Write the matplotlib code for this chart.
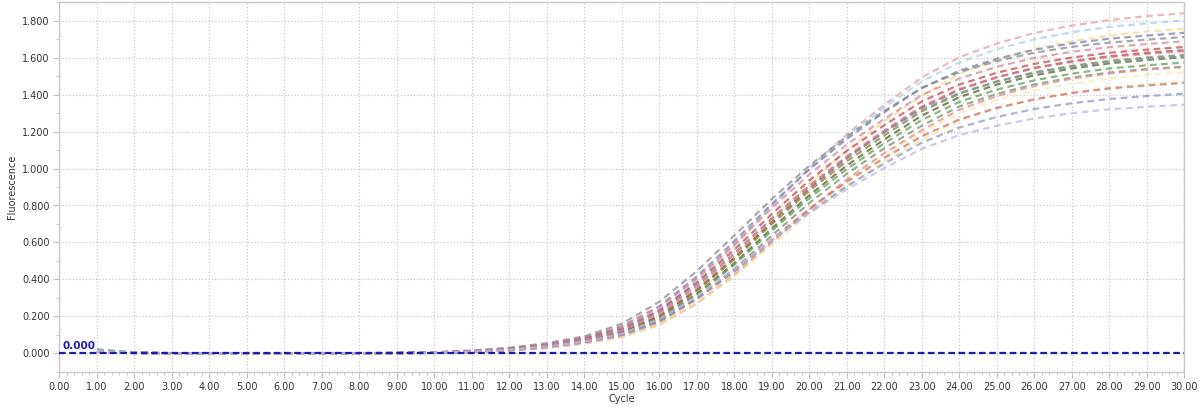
import matplotlib
matplotlib.use("Agg")
import matplotlib.pyplot as plt
from matplotlib.ticker import MultipleLocator, FormatStrFormatter

# qPCR amplification curves, fluorescence per cycle
cycles = list(range(1, 31))

well_colors = ["#e8a0a8", "#a8d4e8", "#f0dc90", "#7880b0", "#8c8c8c",
               "#d88898", "#c84848", "#a0502c", "#808040", "#5c5c28",
               "#5ca05c", "#70a0a0", "#e070a0", "#7c9070", "#f6eeb0",
               "#e09090", "#f2e6a0", "#d07070", "#9098c0", "#c0b8e0"]

w01 = [0.014, 0.004, 0.001, 0.000, 0.000, 0.000, 0.000, 0.001, 0.002, 0.005, 0.011, 0.023, 0.046, 0.080, 0.131,
       0.228, 0.388, 0.581, 0.798, 1.003, 1.186, 1.345, 1.493, 1.602, 1.676, 1.733, 1.773, 1.803, 1.824, 1.840]
w02 = [0.020, 0.005, 0.001, 0.000, 0.000, 0.000, 0.001, 0.001, 0.003, 0.006, 0.012, 0.025, 0.048, 0.083, 0.136,
       0.237, 0.397, 0.590, 0.801, 0.999, 1.175, 1.330, 1.472, 1.574, 1.645, 1.699, 1.737, 1.766, 1.785, 1.801]
w03 = [0.010, 0.003, 0.000, 0.000, 0.000, 0.000, 0.000, 0.001, 0.001, 0.003, 0.010, 0.020, 0.039, 0.069, 0.113,
       0.197, 0.338, 0.518, 0.722, 0.921, 1.100, 1.257, 1.394, 1.512, 1.589, 1.647, 1.688, 1.719, 1.741, 1.756]
w04 = [0.012, 0.004, 0.001, 0.000, 0.000, 0.000, 0.001, 0.002, 0.003, 0.006, 0.014, 0.027, 0.051, 0.087, 0.147,
       0.256, 0.417, 0.608, 0.809, 0.996, 1.161, 1.305, 1.436, 1.529, 1.593, 1.642, 1.677, 1.702, 1.719, 1.734]
w05 = [0.016, 0.005, 0.002, 0.001, 0.000, 0.000, 0.001, 0.002, 0.004, 0.007, 0.016, 0.031, 0.056, 0.093, 0.161,
       0.280, 0.446, 0.639, 0.836, 1.016, 1.174, 1.312, 1.436, 1.521, 1.581, 1.626, 1.658, 1.681, 1.697, 1.711]
w06 = [0.011, 0.003, 0.001, 0.000, 0.000, 0.000, 0.000, 0.001, 0.003, 0.006, 0.014, 0.026, 0.050, 0.084, 0.143,
       0.249, 0.406, 0.591, 0.787, 0.969, 1.130, 1.269, 1.398, 1.487, 1.550, 1.598, 1.631, 1.656, 1.673, 1.688]
w07 = [0.009, 0.003, 0.001, 0.000, 0.000, 0.000, 0.000, 0.001, 0.002, 0.005, 0.012, 0.025, 0.046, 0.079, 0.133,
       0.232, 0.382, 0.562, 0.755, 0.936, 1.096, 1.235, 1.363, 1.454, 1.518, 1.566, 1.600, 1.626, 1.643, 1.657]
w08 = [0.008, 0.002, 0.000, 0.000, 0.000, 0.000, 0.000, 0.001, 0.002, 0.004, 0.010, 0.020, 0.041, 0.071, 0.117,
       0.203, 0.345, 0.518, 0.711, 0.894, 1.057, 1.199, 1.331, 1.427, 1.494, 1.544, 1.580, 1.607, 1.626, 1.640]
w09 = [0.010, 0.003, 0.001, 0.000, 0.000, 0.000, 0.000, 0.001, 0.002, 0.004, 0.010, 0.020, 0.040, 0.070, 0.115,
       0.200, 0.340, 0.510, 0.700, 0.880, 1.040, 1.180, 1.310, 1.405, 1.470, 1.520, 1.555, 1.582, 1.600, 1.614]
w10 = [0.012, 0.003, 0.001, 0.000, 0.000, 0.000, 0.000, 0.001, 0.002, 0.004, 0.009, 0.019, 0.038, 0.066, 0.109,
       0.189, 0.323, 0.489, 0.676, 0.856, 1.017, 1.158, 1.286, 1.386, 1.454, 1.504, 1.541, 1.569, 1.587, 1.602]
w11 = [0.022, 0.006, 0.002, 0.000, 0.000, 0.000, 0.000, 0.001, 0.002, 0.004, 0.009, 0.019, 0.037, 0.064, 0.107,
       0.185, 0.317, 0.480, 0.664, 0.840, 0.998, 1.137, 1.263, 1.361, 1.427, 1.477, 1.513, 1.541, 1.558, 1.573]
w12 = [0.018, 0.005, 0.001, 0.000, 0.000, 0.000, 0.000, 0.001, 0.003, 0.005, 0.012, 0.024, 0.045, 0.076, 0.129,
       0.224, 0.370, 0.544, 0.732, 0.907, 1.062, 1.197, 1.321, 1.409, 1.471, 1.517, 1.550, 1.575, 1.592, 1.606]
w13 = [0.010, 0.003, 0.001, 0.000, 0.000, 0.000, 0.000, 0.001, 0.002, 0.005, 0.011, 0.022, 0.044, 0.075, 0.123,
       0.216, 0.360, 0.535, 0.727, 0.907, 1.067, 1.207, 1.336, 1.429, 1.493, 1.542, 1.577, 1.603, 1.620, 1.634]
w14 = [0.013, 0.004, 0.001, 0.000, 0.000, 0.000, 0.000, 0.001, 0.001, 0.003, 0.009, 0.017, 0.035, 0.061, 0.100,
       0.174, 0.299, 0.457, 0.638, 0.814, 0.972, 1.110, 1.232, 1.336, 1.404, 1.455, 1.492, 1.519, 1.538, 1.551]
w15 = [0.008, 0.002, 0.000, 0.000, 0.000, 0.000, 0.000, 0.000, 0.001, 0.003, 0.008, 0.016, 0.032, 0.057, 0.093,
       0.161, 0.278, 0.431, 0.607, 0.781, 0.937, 1.075, 1.194, 1.301, 1.371, 1.422, 1.459, 1.487, 1.506, 1.520]
w16 = [0.009, 0.003, 0.001, 0.000, 0.000, 0.000, 0.000, 0.000, 0.001, 0.003, 0.007, 0.015, 0.030, 0.054, 0.090,
       0.156, 0.270, 0.424, 0.601, 0.780, 0.942, 1.084, 1.208, 1.318, 1.392, 1.446, 1.486, 1.514, 1.535, 1.548]
w17 = [0.011, 0.003, 0.001, 0.000, 0.000, 0.000, 0.000, 0.000, 0.001, 0.003, 0.007, 0.016, 0.031, 0.055, 0.089,
       0.156, 0.269, 0.417, 0.587, 0.755, 0.907, 1.040, 1.155, 1.258, 1.326, 1.375, 1.411, 1.438, 1.456, 1.470]
w18 = [0.010, 0.003, 0.001, 0.000, 0.000, 0.000, 0.000, 0.001, 0.002, 0.004, 0.008, 0.017, 0.034, 0.060, 0.100,
       0.172, 0.295, 0.446, 0.618, 0.782, 0.929, 1.058, 1.175, 1.266, 1.328, 1.374, 1.408, 1.433, 1.449, 1.463]
w19 = [0.012, 0.004, 0.001, 0.000, 0.000, 0.000, 0.000, 0.001, 0.002, 0.003, 0.009, 0.017, 0.035, 0.061, 0.100,
       0.174, 0.296, 0.444, 0.609, 0.766, 0.905, 1.027, 1.140, 1.222, 1.279, 1.322, 1.353, 1.376, 1.392, 1.404]
w20 = [0.015, 0.004, 0.001, 0.000, 0.000, 0.000, 0.000, 0.001, 0.002, 0.004, 0.010, 0.020, 0.037, 0.064, 0.108,
       0.188, 0.310, 0.456, 0.613, 0.760, 0.889, 1.003, 1.107, 1.181, 1.232, 1.271, 1.299, 1.320, 1.334, 1.345]

wells = [w01, w02, w03, w04, w05, w06, w07, w08, w09, w10,
         w11, w12, w13, w14, w15, w16, w17, w18, w19, w20]

threshold = 0.0
x_ticks = [float(i) for i in range(0, 31)]

fig = plt.figure(figsize=(12.04, 4.11), dpi=100)
ax = fig.add_axes([0.0494, 0.095, 0.9344, 0.900])

for vals, col in zip(wells, well_colors):
    ax.plot(cycles, vals, color=col, lw=1.6, alpha=0.75,
            linestyle=(0, (3.0, 2.0)), zorder=2)

# threshold line
ax.axhline(threshold, color="#1c1ca8", lw=1.6, linestyle=(0, (3.0, 1.6)), zorder=4)
ax.text(0.08, threshold + 0.012, "%.3f" % threshold, color="#1c1ca8",
        fontsize=7.5, fontweight="bold", va="bottom", ha="left", zorder=5)

ax.set_xlim(0, 30)
ax.set_ylim(-0.1, 1.9)
ax.set_xticks(x_ticks)
ax.xaxis.set_major_formatter(FormatStrFormatter("%.2f"))
ax.xaxis.set_minor_locator(MultipleLocator(0.2))
ax.yaxis.set_major_locator(MultipleLocator(0.2))
ax.yaxis.set_major_formatter(FormatStrFormatter("%.3f"))
ax.yaxis.set_minor_locator(MultipleLocator(0.1))

ax.grid(True, which="major", color="#c8c8c8", linestyle=":", lw=0.9, zorder=0)
ax.set_axisbelow(True)
for sp in ax.spines.values():
    sp.set_color("#c8c8c8")
    sp.set_linewidth(1.0)

ax.tick_params(which="major", length=4, color="#c0c0c0", labelsize=7, labelcolor="#333333", pad=3)
ax.tick_params(which="minor", length=2.5, color="#c8c8c8")

ax.set_xlabel("Cycle", fontsize=7, color="#333333", labelpad=2)
ax.set_ylabel("Fluorescence", fontsize=7, color="#333333", labelpad=4)

fig.savefig("out.png", dpi=100)
